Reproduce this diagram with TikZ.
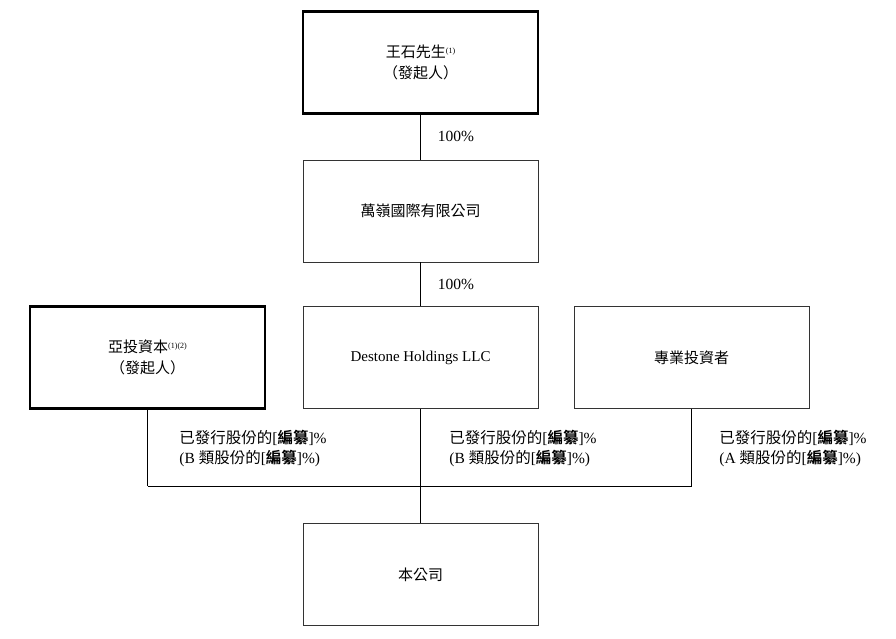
\documentclass[tikz,border=0pt]{standalone}
\usepackage{fontspec}
\setmainfont{Liberation Serif}
\newfontfamily\cjk{Noto Sans CJK TC}[BoldFont={* Bold}]
\newcommand{\bzb}{{\cjk\bfseries 編纂}}
\usetikzlibrary{positioning}
\begin{document}
\begin{tikzpicture}[x=1pt,y=-1pt]
	  		\tikzstyle{ent}=[rectangle, draw=black!80, minimum width=235pt, minimum height=102pt, align=center, font=\fontsize{15}{21}\selectfont, inner sep=0pt]
	  		\tikzstyle{founder}=[ent, line width=2.2pt, draw=black]
	  		\tikzstyle{pct}=[font=\fontsize{15.5}{20}\selectfont, align=left]
	  		\tikzstyle{connect}=[black, line width=0.6pt]
	  		\useasboundingbox (0,0) rectangle (896,638);
	  		\node[founder] (wang) at (420.5,62.5) {{\cjk 王石先生}\raisebox{4pt}{\fontsize{8}{8}\selectfont(1)}\\{\cjk （發起人）}};
	  		\node[ent] (wanling) at (420.5,211) {\cjk 萬嶺國際有限公司};
	  		\node[ent] (destone) at (420.5,357.5) {Destone Holdings LLC};
	  		\node[founder] (ya) at (147.5,357.5) {{\cjk 亞投資本}\raisebox{4pt}{\fontsize{8}{8}\selectfont(1)(2)}\\{\cjk （發起人）}};
	  		\node[ent] (pro) at (691.5,357.5) {\cjk 專業投資者};
	  		\node[ent] (company) at (420.5,574.5) {\cjk 本公司};
	  		\coordinate (barl) at (147.5,486);
	  		\coordinate (barm) at (420.5,486);
	  		\coordinate (barr) at (691.5,486);
	  		\path
	  		(wang) edge [connect] (wanling)
	  		(wanling) edge [connect] (destone)
	  		(destone) edge [connect] (company)
	  		(ya) edge [connect] (barl)
	  		(pro) edge [connect] (barr);
	  		\draw[connect] (barl) -- (barr);
	  		\node[pct] (p1) at (456,136) {100\%};
	  		\node[pct] (p2) at (456,284) {100\%};
	  		\node[pct] (s1) at (253,448) {{\cjk 已發行股份的}[\bzb]\%\\({B \cjk 類股份的}[\bzb]\%)};
	  		\node[pct] (s2) at (523,448) {{\cjk 已發行股份的}[\bzb]\%\\({B \cjk 類股份的}[\bzb]\%)};
	  		\node[pct] (s3) at (793,448) {{\cjk 已發行股份的}[\bzb]\%\\({A \cjk 類股份的}[\bzb]\%)};
	  		\end{tikzpicture}
\end{document}
